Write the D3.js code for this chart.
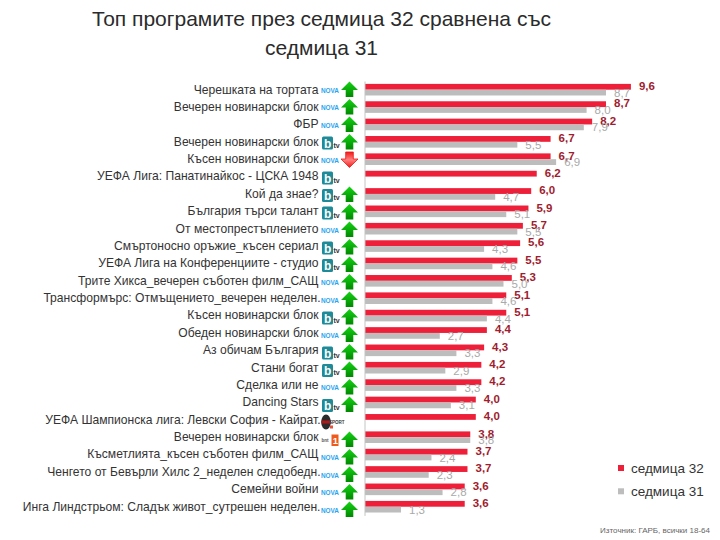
<!DOCTYPE html>
<html>
<head>
<meta charset="utf-8">
<script src="https://cdn.jsdelivr.net/npm/d3@7"></script>
<style>
html, body { margin: 0; padding: 0; background: #fff; }
text { font-family: "Liberation Sans", Arial, sans-serif; }
</style>
</head>
<body>
<svg id="chart" width="720" height="540"></svg>
<script>
// data
const programmes = ["Черешката на тортата", "Вечерен новинарски блок", "ФБР", "Вечерен новинарски блок", "Късен новинарски блок",
	"УЕФА Лига: Панатинайкос - ЦСКА 1948", "Кой да знае?", "България търси талант", "От местопрестъплението", "Смъртоносно оръжие_късен сериал",
	"УЕФА Лига на Конференциите - студио", "Трите Хикса_вечерен съботен филм_САЩ", "Трансформърс: Отмъщението_вечерен неделен.", "Късен новинарски блок", "Обеден новинарски блок",
	"Аз обичам България", "Стани богат", "Сделка или не", "Dancing Stars", "УЕФА Шампионска лига: Левски София - Кайрат.",
	"Вечерен новинарски блок", "Късметлията_късен съботен филм_САЩ", "Ченгето от Бевърли Хилс 2_неделен следобедн.", "Семейни войни", "Инга Линдстрьом: Сладък живот_сутрешен неделен."];
const week32 = [9.6, 8.7, 8.2, 6.7, 6.7, 6.2, 6.0, 5.9, 5.7, 5.6, 5.5, 5.3, 5.1, 5.1, 4.4, 4.3, 4.2, 4.2, 4.0, 4.0, 3.8, 3.7, 3.7, 3.6, 3.6];
const week31 = [8.7, 8.0, 7.9, 5.5, 6.9, null, 4.7, 5.1, 5.5, 4.3, 4.6, 5.0, 4.6, 4.4, 2.7, 3.3, 2.9, 3.3, 3.1, null, 3.8, 2.4, 2.3, 2.8, 1.3];
const channels = ["nova", "nova", "nova", "btv", "nova", "btv", "btv", "btv", "nova", "btv", "btv", "nova", "nova", "btv", "nova", "btv", "btv", "nova", "btv", "sport", "bnt", "nova", "nova", "nova", "nova"];
const seriesNames = ["седмица 32", "седмица 31"];
const titleLines = ["Топ програмите през седмица 32 сравнена със", "седмица 31"];
const source = "Източник: ГАРБ, всички 18-64";

const RED = "#ee2039";
const GRAY = "#bdbdbd";

const svg = d3.select("#chart");
const fmt = v => d3.format(".1f")(v).replace(".", ",");

const x = d3.scaleLinear().domain([0, 10]).range([365, 642]);
const y = d3.scaleBand().domain(d3.range(programmes.length)).range([81, 515.4]);
const center = i => y(i) + y.bandwidth() / 2;
const barH = 5.8;
// the icons sit on a slightly wider step than the bars
const iconY = d3.scaleBand().domain(d3.range(programmes.length)).range([80.75, 518.25]);

// title
svg.selectAll(".title").data(titleLines).enter().append("text")
	.attr("class", "title")
	.attr("x", 321.5).attr("y", (d, i) => 25.5 + i * 29.5)
	.attr("text-anchor", "middle")
	.attr("font-size", 21)
	.attr("fill", "#2b2b2b")
	.text(d => d);

// gradient for the arrows
const defs = svg.append("defs");
const upGrad = defs.append("linearGradient").attr("id", "upGrad").attr("x1", 0).attr("y1", 0).attr("x2", 0).attr("y2", 1);
upGrad.append("stop").attr("offset", "0%").attr("stop-color", "#14d414");
upGrad.append("stop").attr("offset", "100%").attr("stop-color", "#008800");
const downGrad = defs.append("linearGradient").attr("id", "downGrad").attr("x1", 0).attr("y1", 0).attr("x2", 0).attr("y2", 1);
downGrad.append("stop").attr("offset", "0%").attr("stop-color", "#f01818");
downGrad.append("stop").attr("offset", "50%").attr("stop-color", "#ff8080");
downGrad.append("stop").attr("offset", "100%").attr("stop-color", "#f01818");

// bars
svg.selectAll(".red").data(week32).enter().append("rect")
	.attr("class", "red")
	.attr("x", x(0)).attr("y", (d, i) => center(i) - barH)
	.attr("width", d => x(d) - x(0)).attr("height", barH)
	.attr("fill", RED);

const grayRows = week31.map((v, i) => ({ v, i })).filter(d => d.v !== null);
svg.selectAll(".gray").data(grayRows).enter().append("rect")
	.attr("class", "gray")
	.attr("x", x(0)).attr("y", d => center(d.i))
	.attr("width", d => x(d.v) - x(0)).attr("height", barH)
	.attr("fill", GRAY);

// axis with the programme names
const axis = svg.append("g")
	.attr("transform", "translate(364.5,0)")
	.call(d3.axisLeft(y).tickSize(0).tickPadding(46).tickFormat(i => programmes[i]));
axis.select(".domain").attr("stroke", "#c4c4c4").attr("stroke-width", 1);
axis.selectAll("text")
	.attr("font-size", 12.1)
	.attr("font-family", "'Liberation Sans', Arial, sans-serif")
	.attr("fill", "#333")
	.attr("dx", i => programmes[i].endsWith(".") ? 2 : 0);

// value labels
svg.selectAll(".lab32").data(week32).enter().append("text")
	.attr("class", "lab32")
	.attr("x", d => x(d) + 8).attr("y", (d, i) => center(i) + 0.4)
	.attr("font-size", 11.5).attr("font-weight", "bold")
	.attr("fill", "#a01c2e")
	.text(fmt);

svg.selectAll(".lab31").data(grayRows).enter().append("text")
	.attr("class", "lab31")
	.attr("x", d => x(d.v) + 8).attr("y", d => center(d.i) + 7)
	.attr("font-size", 11.5)
	.attr("fill", "#a9a9a9")
	.text(d => fmt(d.v));

// channel logos
function drawLogo(g, name) {
	if (name === "nova") {
		g.append("text").attr("x", 321).attr("y", 3).attr("font-size", 7.6).attr("font-weight", "bold")
			.attr("textLength", 18).attr("lengthAdjust", "spacingAndGlyphs")
			.attr("fill", "#2aa4f0").text("NOVA");
	} else if (name === "btv") {
		g.append("rect").attr("x", 322).attr("y", -5.5).attr("width", 11).attr("height", 13).attr("rx", 1.5).attr("fill", "#1f8a98");
		g.append("text").attr("x", 324).attr("y", 5.5).attr("font-size", 12).attr("font-weight", "bold").attr("fill", "#fff").text("b");
		g.append("text").attr("x", 333.5).attr("y", 5.5).attr("font-size", 7).attr("font-weight", "bold").attr("fill", "#333").text("tv");
	} else if (name === "bnt") {
		g.append("text").attr("x", 321.5).attr("y", 2.5).attr("font-size", 4.5).attr("font-weight", "bold").attr("fill", "#555").text("bnt");
		g.append("rect").attr("x", 331.5).attr("y", -5).attr("width", 7).attr("height", 11.5).attr("fill", "#ee5a1c");
		g.append("text").attr("x", 332.8).attr("y", 4.5).attr("font-size", 9.5).attr("font-weight", "bold").attr("fill", "#fff").text("1");
	} else if (name === "sport") {
		g.append("ellipse").attr("cx", 326).attr("cy", 0).attr("rx", 4.8).attr("ry", 7.5).attr("fill", "#2b2b2b");
		g.append("rect").attr("x", 321.5).attr("y", -1.5).attr("width", 9).attr("height", 3).attr("fill", "#b01818");
		g.append("text").attr("x", 329).attr("y", 1.5).attr("font-size", 4.5).attr("font-weight", "bold").attr("fill", "#333").text("SPORT");
		g.append("rect").attr("x", 330).attr("y", 3.5).attr("width", 3).attr("height", 3).attr("fill", "#e8503a");
	}
}

// up/down arrows, direction from the two weeks
const arrowPath = () => {
	const p = d3.path();
	p.moveTo(0, -8); p.lineTo(8.5, 0.5); p.lineTo(3.8, 0.5); p.lineTo(3.8, 7.5);
	p.lineTo(-3.8, 7.5); p.lineTo(-3.8, 0.5); p.lineTo(-8.5, 0.5); p.closePath();
	return p.toString();
};

programmes.forEach((name, i) => {
	const g = svg.append("g").attr("transform", `translate(0,${iconY(i) + iconY.bandwidth() / 2})`);
	drawLogo(g, channels[i]);
	if (week31[i] === null) return;
	const down = week32[i] < week31[i];
	g.append("path")
		.attr("d", arrowPath())
		.attr("transform", `translate(349.5,0)${down ? " scale(1,-1)" : ""}`)
		.attr("fill", `url(#${down ? "downGrad" : "upGrad"})`)
		.attr("stroke", down ? "#ee1515" : "none")
		.attr("stroke-width", down ? 0.8 : 0);
});

// legend
[RED, GRAY].forEach((c, i) => {
	const ly = 468 + i * 23.3;
	svg.append("rect").attr("x", 618).attr("y", ly - 3).attr("width", 6).attr("height", 6).attr("fill", c);
	svg.append("text").attr("x", 631).attr("y", ly + 4.5)
		.attr("font-size", 13.5).attr("fill", "#333").text(seriesNames[i]);
});

// source
svg.append("text").attr("x", 710).attr("y", 532.5).attr("text-anchor", "end")
	.attr("font-size", 8).attr("fill", "#666").text(source);
</script>
</body>
</html>
